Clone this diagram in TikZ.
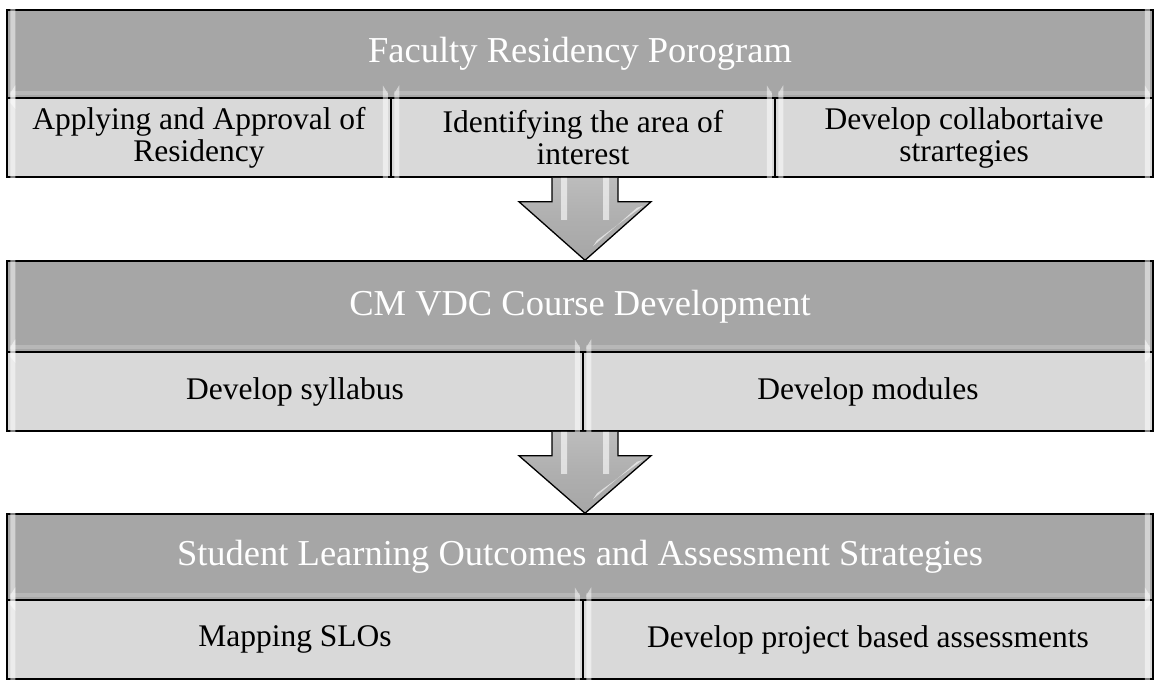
\documentclass[tikz,border=0pt]{standalone}
\usepackage{fontspec}
\setmainfont{Liberation Serif}
\usetikzlibrary{calc}
\definecolor{hdr}{HTML}{A6A6A6}
\definecolor{sub}{HTML}{D9D9D9}
\tikzset{
  cellbase/.style={draw=black, line width=1.5pt, inner sep=4pt, align=center, rectangle},
  hdrcell/.style={cellbase, fill=hdr, text=white, font=\fontsize{36.5}{38}\selectfont},
  subcell/.style={cellbase, fill=sub, text=black, font=\fontsize{31.5}{32}\selectfont},
  bevel/.style={fill=white, fill opacity=0.5, draw=none},
  flowarrow/.style={draw=black, line width=1.3pt, top color=hdr!75, bottom color=hdr, middle color=hdr!90},
  shine/.style={fill=white, fill opacity=0.6, draw=none}
}
% bevel highlights inside a named node
\newcommand{\bevelit}[1]{%
  \fill[bevel] ($(#1.north west)+(4,-4)$) -- ($(#1.north west)+(9,-12)$) -- ($(#1.south west)+(9,10)$) -- ($(#1.south west)+(4,4)$) -- cycle;
  \fill[bevel] ($(#1.north east)+(-4,-4)$) -- ($(#1.north east)+(-9,-12)$) -- ($(#1.south east)+(-9,10)$) -- ($(#1.south east)+(-4,4)$) -- cycle;
  \fill[white, opacity=0.2] ($(#1.north west)+(4,-2)$) rectangle ($(#1.north east)+(-4,-6)$);
}
\newcommand{\flowdown}[2]{%
  \path let \p1=(#1.south), \p2=(#2.north) in
    coordinate (at) at (585,\y1) coordinate (ab) at (585,\y2);
  \path let \p1=(at), \p2=(ab) in
    [flowarrow] (\x1-33,\y1) -- (\x1-33,\y1-24) -- (\x1-66,\y1-24) -- (\x1,\y2) -- (\x1+66,\y1-24) -- (\x1+33,\y1-24) -- (\x1+33,\y1);
  \path let \p1=(at), \p2=(ab) in
    [shine] (\x1-24,\y1) rectangle (\x1-18,\y1-42)
    [shine] (\x1+18,\y1) rectangle (\x1+24,\y1-42)
    [shine] (\x1+8,\y2+14) -- (\x1+52,\y1-30) -- (\x1+58,\y1-28) -- (\x1+12,\y2+20) -- cycle;
}
\begin{document}
\begin{tikzpicture}[x=1pt,y=-1pt]
\useasboundingbox (0,0) rectangle (1156,681);
% block 1
\node[hdrcell, minimum width=1146, minimum height=88] (h1) at (580,54) {\raisebox{-3pt}{Faculty Residency Porogram}};
\node[subcell, minimum width=384, minimum height=79] (s1a) at (199,137.5) {Applying and Approval of\\Residency};
\node[subcell, minimum width=384, minimum height=79] (s1b) at (583,137.5) {Identifying the area of\\interest};
\node[subcell, minimum width=378, minimum height=79] (s1c) at (964,137.5) {Develop collabortaive\\strartegies};
% block 2
\node[hdrcell, minimum width=1146, minimum height=91] (h2) at (580,306.5) {\raisebox{-3pt}{CM VDC Course Development}};
\node[subcell, minimum width=576, minimum height=79] (s2a) at (295,391.5) {Develop syllabus};
\node[subcell, minimum width=570, minimum height=79] (s2b) at (868,391.5) {Develop modules};
% block 3
\node[hdrcell, minimum width=1146, minimum height=86] (h3) at (580,557) {\raisebox{-3pt}{Student Learning Outcomes and Assessment Strategies}};
\node[subcell, minimum width=576, minimum height=79] (s3a) at (295,639.5) {Mapping SLOs};
\node[subcell, minimum width=570, minimum height=79] (s3b) at (868,639.5) {Develop project based assessments};
\foreach \n in {h1,s1a,s1b,s1c,h2,s2a,s2b,h3,s3a,s3b} {\bevelit{\n}}
\flowdown{s1b}{h2}
\flowdown{s2a}{h3}
\end{tikzpicture}
\end{document}
